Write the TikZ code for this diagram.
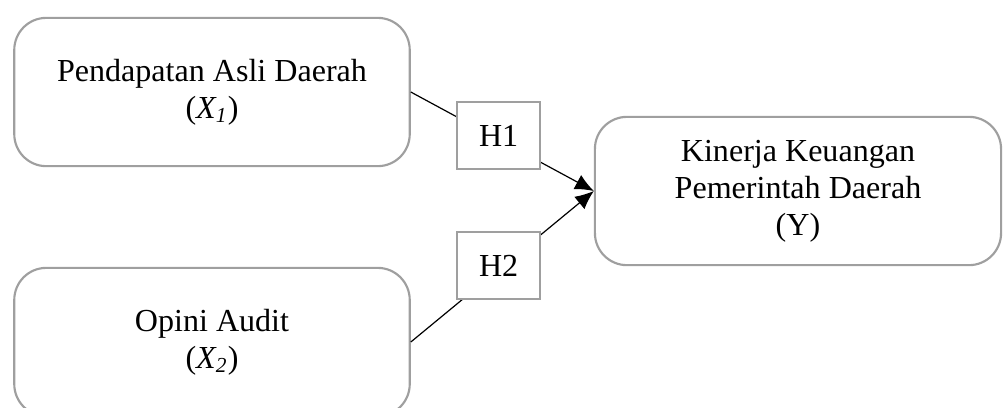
\documentclass[tikz,border=0pt]{standalone}
\usepackage{fontspec}
\setmainfont{Liberation Serif}
\usetikzlibrary{arrows.meta}
\usetikzlibrary{positioning}
\tikzset{varbox/.style = {draw=gray!75, line width=0.8pt, rounded corners=12pt,
                          fill=white, align=center, minimum width=148pt,
                          minimum height=55.5pt},
         hypbox/.style = {draw=gray!75, line width=0.8pt, fill=white,
                          minimum width=31pt, minimum height=25pt, yshift=1.5pt},
         link/.style = {line width=0.45pt, -{Latex[length=7pt,width=6pt]}}}

\begin{document}
\begin{tikzpicture}[x=0.01316cm, y=-0.01316cm,
                    font=\fontsize{12}{13.8}\selectfont]
    \useasboundingbox (0, 0) rectangle (1003, 407);
    \node [varbox] (X1) at (212, 92) {Pendapatan Asli Daerah\\(\textit{X\textsubscript{1}})};
    \node [varbox] (X2) at (212, 342) {Opini Audit\\(\textit{X\textsubscript{2}})};
    \node [varbox, minimum width=152pt] (Y) at (798, 191) {Kinerja Keuangan\\Pemerintah Daerah\\(Y)};
    \draw [link] (X1.east) -- node [hypbox, pos=0.48] (H1) {H1} (Y.west);
    \draw [link] (X2.east) -- node [hypbox, pos=0.48] (H2) {H2} (Y.west);
  \end{tikzpicture}
\end{document}
